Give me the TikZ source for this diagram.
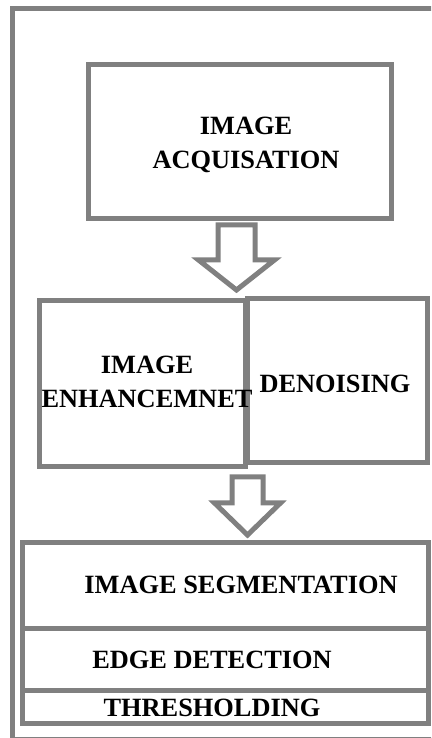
\documentclass[tikz,border=0pt]{standalone}
\usepackage{fontspec}
\setmainfont{Liberation Serif}
\usetikzlibrary{positioning}
\definecolor{boxgray}{RGB}{128,128,128}
\begin{document}
\begin{tikzpicture}[
  box/.style={draw=boxgray,line width=0.1cm,inner sep=0pt,outer sep=0pt},
  txt/.style={font=\bfseries\fontsize{15}{19}\selectfont,align=center,inner sep=0pt},
  hollow/.style={draw=boxgray,line width=0.1cm,fill=white}]
\clip (0,0) rectangle (8.62,14.76);
\draw[boxgray,line width=0.1cm] (0.24,-0.02) rectangle (8.90,14.58);
\node[box,minimum width=6.06cm,minimum height=3.08cm] (acq) at (4.79,11.92) {};
\node[box,minimum width=4.12cm,minimum height=3.32cm] (enh) at (2.84,7.08) {};
\node[box,minimum width=3.60cm,minimum height=3.28cm] (den) at (6.74,7.14) {};
\node[box,minimum width=8.12cm,minimum height=1.72cm] (seg) at (4.50,3.04) {};
\node[box,minimum width=8.12cm,minimum height=1.24cm,below=0pt of seg] (edge) {};
\node[box,minimum width=8.12cm,minimum height=0.64cm,below=0pt of edge] (thr) {};
\coordinate (a1) at ([xshift=-0.06cm,yshift=-0.12cm]acq.south);
\draw[hollow] (a1) ++(-0.37,0) -- ++(0,-0.70) -- ++(-0.39,0) -- ++(0.76,-0.6) -- ++(0.76,0.6) -- ++(-0.39,0) -- ++(0,0.70) -- cycle;
\coordinate (a2) at (4.95,5.22);
\draw[hollow] (a2) ++(-0.31,0) -- ++(0,-0.52) -- ++(-0.35,0) -- ++(0.66,-0.64) -- ++(0.66,0.64) -- ++(-0.35,0) -- ++(0,0.52) -- cycle;
\node[txt] (acqtxt) at ([xshift=0.13cm,yshift=-0.06cm]acq.center) {IMAGE\\ACQUISATION};
\node[txt] (enhtxt) at ([xshift=0.10cm,yshift=0.04cm]enh.center) {IMAGE\\ENHANCEMNET};
\node[txt] (dentxt) at ([xshift=-0.04cm,yshift=-0.06cm]den.center) {DENOISING};
\node[txt] (segtxt) at ([xshift=0.32cm,yshift=0.02cm]seg.center) {IMAGE SEGMENTATION};
\node[txt] (edgetxt) at ([xshift=-0.26cm]edge.center) {EDGE DETECTION};
\node[txt] (thrtxt) at ([xshift=-0.26cm,yshift=-0.02cm]thr.center) {THRESHOLDING};
\end{tikzpicture}
\end{document}
